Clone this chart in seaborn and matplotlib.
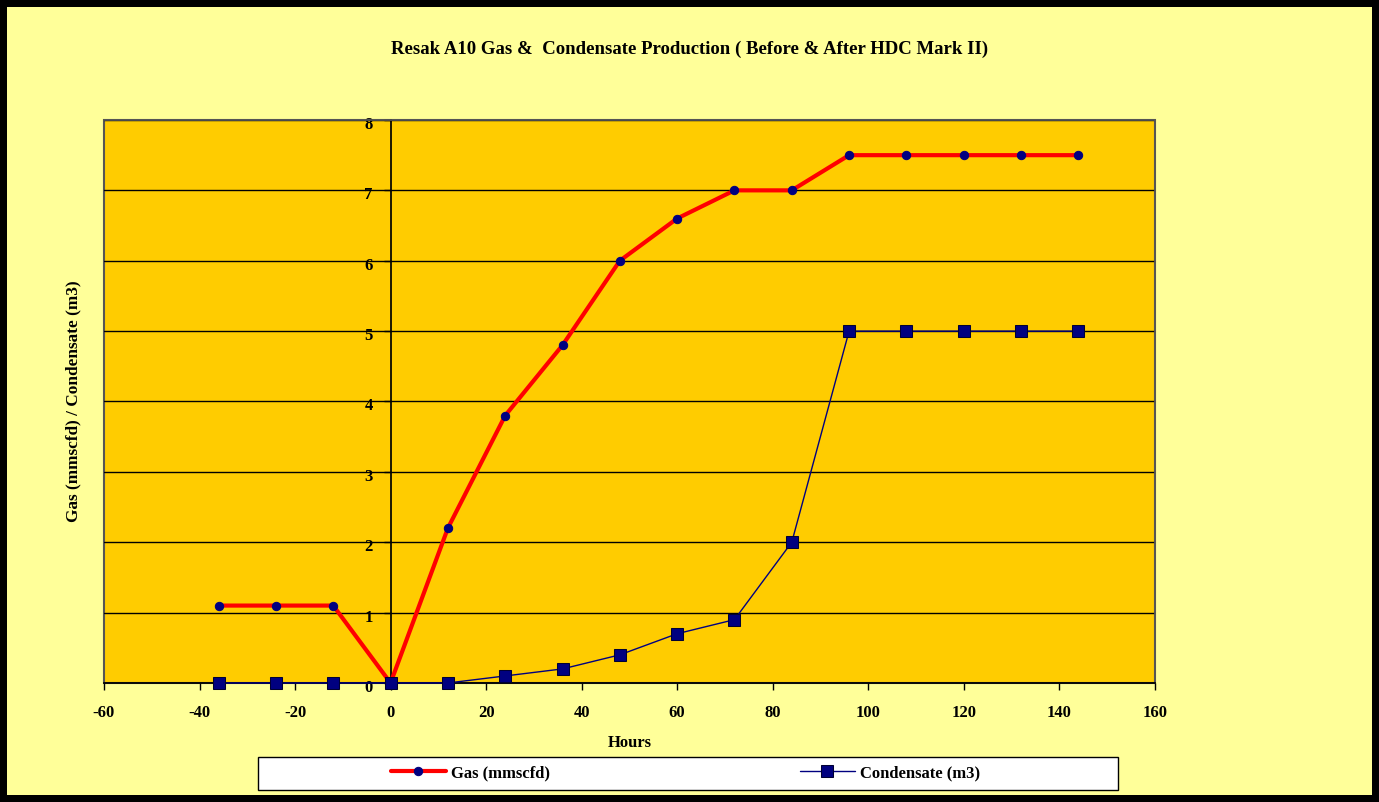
# Resak A10 Gas & Condensate Production chart
import pandas as pd
import matplotlib.pyplot as plt
import matplotlib.transforms as mtransforms
import seaborn as sns
from matplotlib.patches import Rectangle

# Data
hours = [-36, -24, -12, 0, 12, 24, 36, 48, 60, 72, 84, 96, 108, 120, 132, 144]
gas = [1.1, 1.1, 1.1, 0, 2.2, 3.8, 4.8, 6.0, 6.6, 7.0, 7.0, 7.5, 7.5, 7.5, 7.5, 7.5]
condensate = [0, 0, 0, 0, 0, 0.1, 0.2, 0.4, 0.7, 0.9, 2.0, 5.0, 5.0, 5.0, 5.0, 5.0]

x_ticks = [-60, -40, -20, 0, 20, 40, 60, 80, 100, 120, 140, 160]
y_ticks = [0, 1, 2, 3, 4, 5, 6, 7, 8]

df = pd.DataFrame({'Hours': hours, 'Gas': gas, 'Condensate': condensate})

sns.set_theme(style="ticks")
plt.rcParams['font.family'] = ['Liberation Serif', 'DejaVu Serif']
plt.rcParams['font.weight'] = 'bold'
plt.rcParams['axes.unicode_minus'] = False
plt.rcParams['text.color'] = 'black'
plt.rcParams['xtick.color'] = 'black'
plt.rcParams['ytick.color'] = 'black'
plt.rcParams['axes.labelcolor'] = 'black'

fig = plt.figure(figsize=(13.79, 8.02), dpi=100)
fig.patch.set_facecolor('#FFFF99')
fig.patch.set_edgecolor('black')
fig.patch.set_linewidth(10)

ax = fig.add_axes([0.0754, 0.1484, 0.762, 0.702])
ax.set_facecolor('#FFCC00')

# ---------- Lines ----------
sns.lineplot(data=df, x='Hours', y='Gas', ax=ax, color='#FF0000', linewidth=3,
             marker='o', markersize=6, markerfacecolor='#000080',
             markeredgecolor='#000080', label='Gas (mmscfd)', zorder=4,
             clip_on=False)
sns.lineplot(data=df, x='Hours', y='Condensate', ax=ax, color='#000080', linewidth=1,
             marker='s', markersize=8, markerfacecolor='#000080',
             markeredgecolor='#000033', label='Condensate (m3)', zorder=5,
             clip_on=False)

# ---------- Axes ----------
ax.set_xlim(-60, 160)
ax.set_ylim(0, 8)
ax.set_xticks(x_ticks)
ax.set_yticks(y_ticks)
ax.yaxis.grid(True, color='black', linewidth=1)
ax.xaxis.grid(False)
ax.set_axisbelow(True)

ax.spines['left'].set_position(('data', 0))
ax.spines['left'].set_color('black')
ax.spines['bottom'].set_color('black')
for s in ['top', 'right']:
    ax.spines[s].set_visible(True)
    ax.spines[s].set_color('#555555')
ax.patch.set_edgecolor('#555555')
ax.patch.set_linewidth(1.5)

ax.tick_params(axis='x', direction='out', length=5, width=1, labelsize=12, pad=11)
ax.tick_params(axis='y', direction='out', length=5, width=1, labelsize=12, pad=8)
shift_down = mtransforms.ScaledTranslation(0, -3 / 100, fig.dpi_scale_trans)
for lbl in ax.get_yticklabels():
    lbl.set_transform(lbl.get_transform() + shift_down)
for lbl in ax.get_xticklabels() + ax.get_yticklabels():
    lbl.set_fontweight('bold')

ax.set_xlabel('Hours', fontsize=12, fontweight='bold', labelpad=10)
ax.set_ylabel('')
fig.text(0.053, 0.5, 'Gas (mmscfd) / Condensate (m3)', rotation=90,
         ha='center', va='center', fontsize=12.4, fontweight='bold')

fig.text(0.5, 0.938, 'Resak A10 Gas &  Condensate Production ( Before & After HDC Mark II)',
         ha='center', va='center', fontsize=13.5, fontweight='bold')

# ---------- Legend ----------
ax.get_legend().remove()
fig.patches.append(Rectangle((258 / 1379, 12 / 802), 860 / 1379, 33 / 802,
                             transform=fig.transFigure, facecolor='white',
                             edgecolor='black', linewidth=1, zorder=1))
handles, labels = ax.get_legend_handles_labels()
leg = fig.legend(handles, labels, loc='center', bbox_to_anchor=(0.497, 0.036),
                 ncol=2, frameon=False, handlelength=3.3, handletextpad=0.3,
                 columnspacing=15, prop={'size': 12, 'weight': 'bold'})
leg.set_zorder(3)

fig.savefig('out.png', dpi=100, facecolor=fig.get_facecolor(),
            edgecolor=fig.get_edgecolor())
